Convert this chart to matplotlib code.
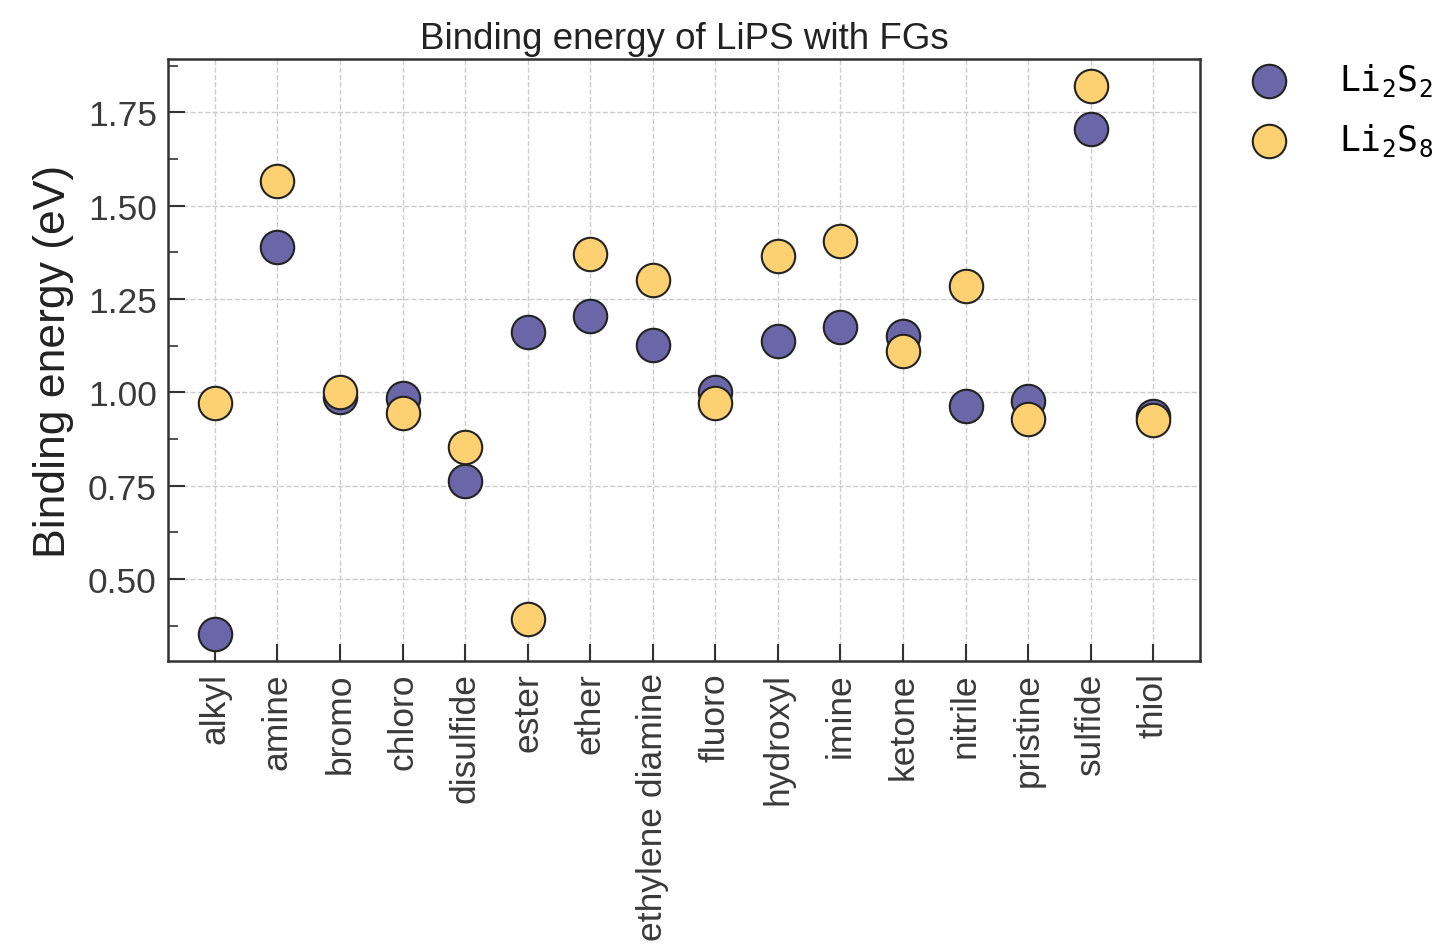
import numpy as np
import matplotlib.pyplot as plt
from matplotlib.ticker import MultipleLocator

# binding energies (eV) of the two polysulfides on each functional group
groups = ["alkyl", "amine", "bromo", "chloro", "disulfide", "ester", "ether",
          "ethylene diamine", "fluoro", "hydroxyl", "imine", "ketone",
          "nitrile", "pristine", "sulfide", "thiol"]
li2s2 = [0.354, 1.390, 0.987, 0.985, 0.762, 1.163, 1.206, 1.128,
         1.000, 1.139, 1.176, 1.152, 0.963, 0.976, 1.705, 0.936]
li2s8 = [0.973, 1.566, 1.000, 0.944, 0.853, 0.394, 1.371, 1.302,
         0.971, 1.366, 1.406, 1.112, 1.286, 0.928, 1.820, 0.925]

plt.rcParams['font.family'] = ['Liberation Sans', 'DejaVu Sans']
# subscripts in the legend come out in the same mono face
plt.rcParams['mathtext.fontset'] = 'custom'
plt.rcParams['mathtext.rm'] = 'DejaVu Sans Mono'
plt.rcParams['mathtext.default'] = 'rm'

fig = plt.figure(figsize=(14.39, 9.45), dpi=100)
ax = fig.add_axes([0.1167, 0.2995, 0.7173, 0.637])

x = np.arange(len(groups))
ax.scatter(x, li2s2, s=580, color='#6b66a8', edgecolor='#222222',
           linewidth=1.5, zorder=3, label='Li$_2$S$_2$')
ax.scatter(x, li2s8, s=580, color='#fdd072', edgecolor='#222222',
           linewidth=1.5, zorder=4, label='Li$_2$S$_8$')

ax.set_xticks(x)
ax.set_xticklabels(groups, rotation=90)
ax.yaxis.set_major_locator(MultipleLocator(0.25))
ax.yaxis.set_minor_locator(MultipleLocator(0.125))
ax.yaxis.set_major_formatter(plt.FormatStrFormatter('%.2f'))

ax.tick_params(axis='both', which='major', direction='in', length=12,
               width=1.5, labelsize=25.5, colors='#333333', pad=8)
ax.tick_params(axis='both', which='major', labelcolor='#3a3a3a')
ax.tick_params(axis='y', which='minor', direction='in', length=7,
               width=1.2, colors='#333333')
ax.grid(True, linestyle='--', color='#cccccc', linewidth=1.0, zorder=0)
ax.set_axisbelow(True)
for sp in ax.spines.values():
    sp.set_linewidth(1.8)
    sp.set_color('#333333')

ax.set_ylabel("Binding energy (eV)", fontsize=32, color='#222222', labelpad=10)
ax.set_title("Binding energy of LiPS with FGs", fontsize=26.5, color='#222222', pad=8)

leg = ax.legend(loc='upper left', bbox_to_anchor=(1.020, 1.02), frameon=False,
                prop={'family': 'DejaVu Sans Mono', 'size': 25},
                handletextpad=1.0, labelspacing=0.7, borderaxespad=0)

fig.savefig("out.png", dpi=100)
